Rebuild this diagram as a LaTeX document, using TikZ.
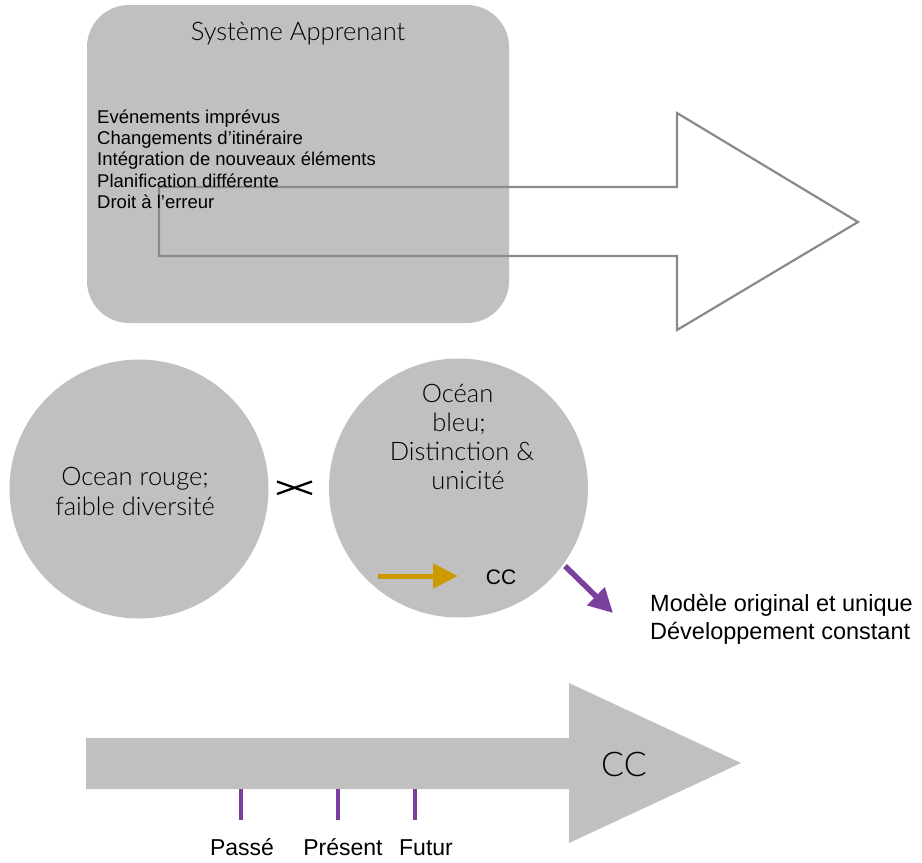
\documentclass[tikz,border=0pt]{standalone}
\usepackage{fontspec}
\setmainfont{Liberation Sans}
\newfontfamily\lightfont{Lato Light}
\usetikzlibrary{arrows.meta}

\definecolor{panelgray}{RGB}{192,192,192}
\definecolor{outlinegray}{RGB}{138,138,142}
\definecolor{ccgold}{RGB}{204,153,0}
\definecolor{accentpurple}{RGB}{123,63,158}

\newcommand\sizept[1]{\fontsize{#1}{#1}\selectfont}

\tikzset{
  txt/.style={inner sep=0pt, anchor=base, text=black},
  txtleft/.style={inner sep=0pt, anchor=base west, text=black},
  thin/.style={font=\lightfont\sizept{25.5}},
  panel/.style={fill=panelgray, draw=none},
  bigcircle/.style={circle, fill=panelgray, draw=none, minimum size=259pt, inner sep=0pt},
  hollowarrow/.style={draw=outlinegray, line width=2.2pt, line join=miter},
  tick/.style={draw=accentpurple, line width=4.5pt},
}

\begin{document}
\begin{tikzpicture}[x=1pt, y=-1pt]
\useasboundingbox (0,0) rectangle (922,863);

% ---- learning system panel
\path[panel, rounded corners=42pt] (87,5) rectangle (509,323);

% hollow block arrow
\draw[hollowarrow] (159,187) -- (677,187) -- (677,113) -- (858,222)
  -- (677,330) -- (677,256) -- (159,256) -- cycle;

\node[txt, thin] (title) at (298,40) {Système Apprenant};
\node[txtleft, font=\sizept{18.5}] (l1) at (97,123) {Evénements imprévus};
\node[txtleft, font=\sizept{18.5}] (l2) at (97,144.3) {Changements d’itinéraire};
\node[txtleft, font=\sizept{18.5}] (l3) at (97,165.6) {Intégration de nouveaux éléments};
\node[txtleft, font=\sizept{18.5}] (l4) at (97,187) {Planification différente};
\node[txtleft, font=\sizept{18.5}] (l5) at (97,208.3) {Droit à l’erreur};

% ---- red and blue oceans
\node[bigcircle] (red) at (139,489) {};
\node[bigcircle] (blue) at (458.5,488) {};

\node[txt, thin] (r1) at (135,485.7) {Ocean rouge;};
\node[txt, thin] (r2) at (135,515) {faible diversité};

\node[txt, thin] (b1) at (457.5,402.7) {Océan};
\node[txt, thin] (b2) at (459,431.7) {bleu;};
\node[txt, thin] (b3) at (462,460) {Distinction \&};
\node[txt, thin] (b4) at (468,489) {unicité};

% opposition sign between the oceans
\coordinate (xa) at (277,481.5);
\coordinate (xb) at (312,494);
\coordinate (xc) at (277,494);
\coordinate (xd) at (312,481.5);
\draw[line width=2.3pt] (xa) -- (xb);
\draw[line width=2.3pt] (xc) -- (xd);

% competitive advantage inside the blue ocean
\coordinate (gstart) at (378,576);
\node[txt, font=\sizept{21}] (cc) at (501,584.3) {CC};
\coordinate (gend) at (458,576);
\draw[ccgold, line width=5pt, -{Triangle[length=25pt,width=24pt]}] (gstart) -- (gend);

% outcome
\node[txtleft, font=\sizept{23.5}] (m1) at (650,611.7) {Modèle original et unique};
\node[txtleft, font=\sizept{23.5}] (m2) at (650,639.3) {Développement constant};
\coordinate (pstart) at (565,566);
\coordinate (pend) at (613,613);
\draw[accentpurple, line width=5.5pt, -{Triangle[length=24pt,width=24pt]}] (pstart) -- (pend);

% ---- time arrow
\path[panel] (86,738) -- (569,738) -- (569,683) -- (741,763)
  -- (569,843) -- (569,789) -- (86,789) -- cycle;
\node[txt, font=\lightfont\sizept{34}] (bigcc) at (624,776) {CC};

\coordinate (t1) at (241,789);
\coordinate (t2) at (338,789);
\coordinate (t3) at (415,789);
\draw[tick] (t1) -- ++(0,31);
\draw[tick] (t2) -- ++(0,31);
\draw[tick] (t3) -- ++(0,31);

\node[txt, font=\sizept{23}] (past) at (242,855) {Passé};
\node[txt, font=\sizept{23}] (present) at (343,855) {Présent};
\node[txt, font=\sizept{23}] (future) at (426,855) {Futur};
\end{tikzpicture}
\end{document}
